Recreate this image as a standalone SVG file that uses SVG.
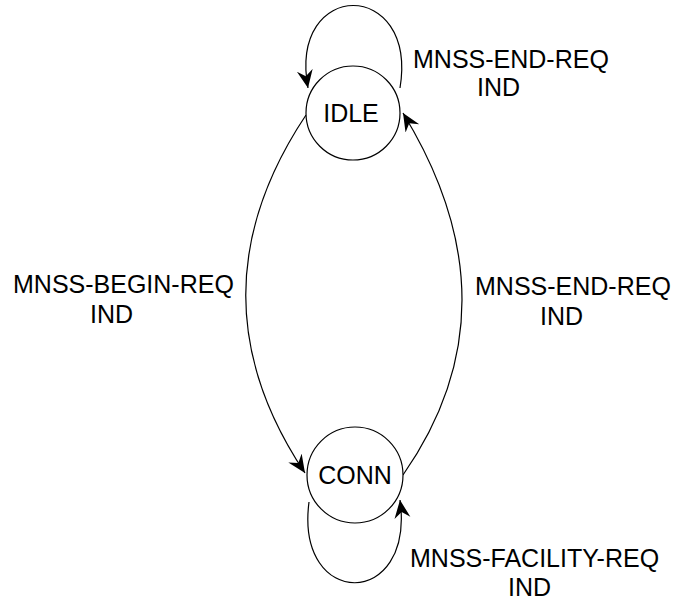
<svg xmlns="http://www.w3.org/2000/svg" width="675" height="600" viewBox="0 0 675 600">
<style>
.node{fill:#fff;stroke:#000;stroke-width:1.2}
.edge{fill:none;stroke:#000;stroke-width:1.2}
text{font-family:"Liberation Sans",Arial,sans-serif;font-size:25px;fill:#000}
</style>
<defs>
<marker id="arr" markerUnits="userSpaceOnUse" markerWidth="22" markerHeight="20" refX="18" refY="8" orient="auto">
<path d="M0,0 L18,8 L0,16 L6,8 z" fill="#000"/>
</marker>
</defs>
<rect width="675" height="600" fill="#fff"/>
<g id="connectors">
<path class="edge" d="M400,88 C418,-22 288,-22 308,88" marker-end="url(#arr)"/>
<path class="edge" d="M306,115 Q186,295 305,473" marker-end="url(#arr)"/>
<path class="edge" d="M403,475 Q521,306 403,113" marker-end="url(#arr)"/>
<path class="edge" d="M309,502 C295,610 415,610 400,500" marker-end="url(#arr)"/>
</g>
<g id="idle">
<circle class="node" cx="353" cy="113" r="47"/>
<text x="351" y="122" text-anchor="middle">IDLE</text>
</g>
<g id="conn">
<circle class="node" cx="355" cy="475" r="48"/>
<text x="355" y="484" text-anchor="middle">CONN</text>
</g>
<g id="labels">
<text x="413" y="68">MNSS-END-REQ</text>
<text x="477" y="96">IND</text>
<text x="13" y="293">MNSS-BEGIN-REQ</text>
<text x="90" y="323">IND</text>
<text x="475" y="295">MNSS-END-REQ</text>
<text x="540" y="325">IND</text>
<text x="410" y="567">MNSS-FACILITY-REQ</text>
<text x="508" y="596">IND</text>
</g>
</svg>
